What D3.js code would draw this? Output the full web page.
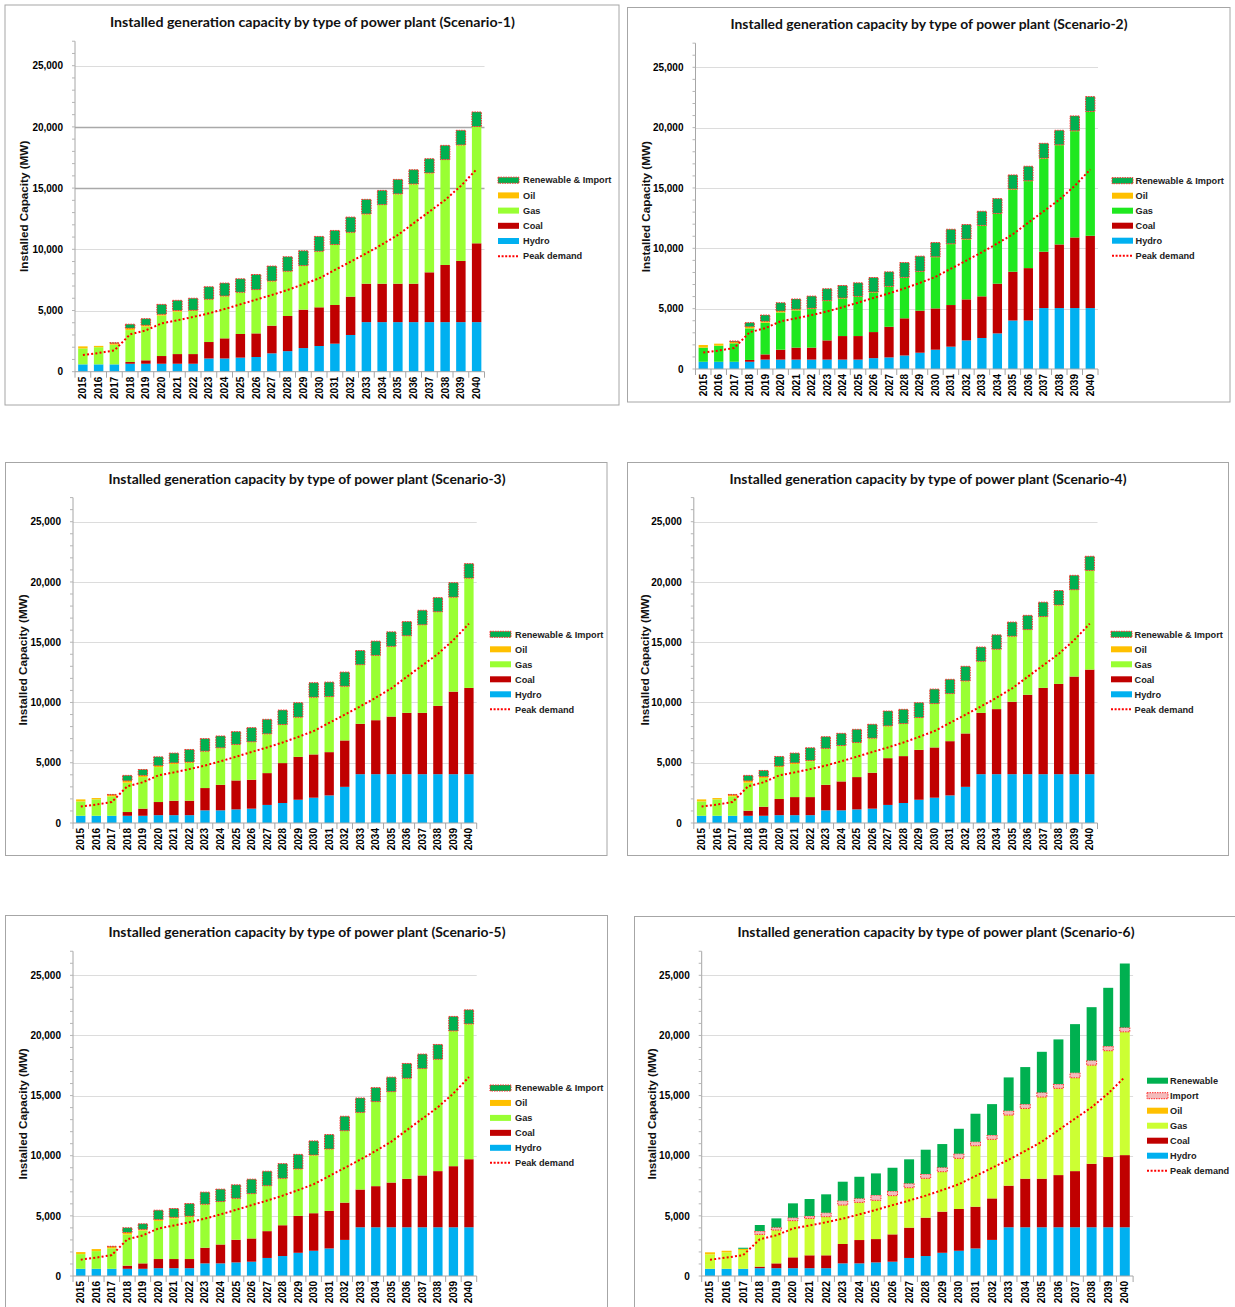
<!DOCTYPE html>
<html><head><meta charset="utf-8">
<script src="https://cdn.jsdelivr.net/npm/d3@7"></script>
<style>
html,body{margin:0;padding:0;background:#fff;}
svg{display:block;}
</style></head><body>
<svg id="chart" width="1235" height="1307"></svg>
<script>
// ---------------- DATA ----------------
const years = [2015,2016,2017,2018,2019,2020,2021,2022,2023,2024,2025,2026,2027,2028,2029,2030,2031,2032,2033,2034,2035,2036,2037,2038,2039,2040];
const peakDemand = [1360,1530,1740,3050,3380,3950,4200,4470,4770,5120,5500,5890,6270,6680,7140,7630,8310,8990,9670,10400,11170,12130,13080,14030,15180,16540];
const yTickValues = [0,5000,10000,15000,20000,25000];
const scenarioTitles = [
  "Installed generation capacity by type of power plant (Scenario-1)",
  "Installed generation capacity by type of power plant (Scenario-2)",
  "Installed generation capacity by type of power plant (Scenario-3)",
  "Installed generation capacity by type of power plant (Scenario-4)",
  "Installed generation capacity by type of power plant (Scenario-5)",
  "Installed generation capacity by type of power plant (Scenario-6)"
];

// Scenario 1
const hydro1 = [600,600,600,650,650,650,650,650,1080,1080,1150,1200,1500,1680,1930,2100,2290,3000,4050,4050,4050,4050,4050,4050,4050,4050];
const coal1  = [0,0,0,140,280,630,790,790,1345,1645,1930,1930,2260,2870,3140,3160,3160,3130,3140,3140,3140,3140,4070,4670,5000,6440];
const gas1   = [1300,1400,1600,2610,2750,3300,3460,3520,3465,3435,3380,3550,3620,3630,3570,4550,4910,5230,5670,6430,7310,8120,8090,8580,9450,9510];
const oil1   = [170,110,120,160,120,110,100,60,30,30,30,30,30,30,30,30,30,30,30,30,30,30,30,30,30,30];
const renewImport1 = [0,0,50,320,530,810,830,980,1020,1050,1100,1230,1220,1180,1210,1210,1150,1240,1190,1160,1180,1160,1160,1160,1190,1190];

// Scenario 2
const hydro2 = [600,600,600,600,780,780,780,780,780,780,780,900,960,1120,1350,1600,1850,2370,2570,2950,4020,4020,5050,5050,5050,5050];
const coal2  = [0,0,0,150,430,820,990,990,1590,1950,1950,2160,2540,3080,3480,3420,3450,3400,3450,4120,4040,4340,4670,5270,5850,5990];
const gas2   = [1170,1330,1530,2620,2630,3090,3090,3200,3260,3120,3260,3290,3320,3360,3230,4250,5050,4970,5850,5790,6820,7210,7720,8230,8810,10270];
const oil2   = [220,170,120,130,110,110,90,60,40,30,30,30,30,30,30,30,30,30,30,30,30,30,30,30,30,30];
const renewImport2 = [0,0,70,340,520,690,850,1010,980,1040,1120,1200,1200,1230,1260,1180,1200,1200,1170,1230,1170,1200,1230,1200,1230,1230];

// Scenario 3
const hydro3 = [600,600,600,600,600,650,650,650,1050,1050,1130,1190,1500,1660,1930,2100,2290,3000,4050,4050,4050,4050,4050,4050,4050,4050];
const coal3  = [0,0,0,310,590,1090,1200,1200,1850,2120,2400,2400,2640,3310,3560,3590,3590,3850,4180,4480,4780,5090,5090,5670,6850,7160];
const gas3   = [1190,1360,1610,2430,2620,2900,3040,3150,3030,3040,2960,3120,3230,3170,3260,4720,4580,4470,4880,5350,5800,6370,7280,7780,7810,9080];
const oil3   = [170,110,120,160,140,110,100,60,30,30,30,30,30,30,30,30,30,30,30,30,30,30,30,30,30,30];
const renewImport3 = [0,0,40,450,490,740,810,1040,1040,980,1060,1170,1200,1200,1200,1200,1200,1170,1170,1180,1200,1170,1200,1170,1200,1200];

// Scenario 4
const hydro4 = [600,600,600,600,600,650,650,650,1050,1050,1130,1190,1500,1660,1930,2100,2290,3000,4050,4050,4050,4050,4050,4050,4050,4050];
const coal4  = [0,0,0,420,750,1340,1500,1500,2120,2400,2680,2980,3880,3890,4140,4170,4500,4430,5090,5400,6010,6590,7160,7490,8100,8680];
const gas4   = [1190,1360,1610,2320,2380,2650,2740,2980,2990,2950,2840,2840,2650,2670,2650,3610,3920,4330,4250,4940,5410,5380,5890,6520,7180,8200];
const oil4   = [170,110,120,160,120,80,100,60,30,30,30,30,30,30,30,30,30,30,30,30,30,30,30,30,30,30];
const renewImport4 = [0,0,40,450,510,800,810,1050,970,1010,1090,1150,1230,1180,1230,1200,1180,1210,1180,1190,1170,1180,1190,1200,1190,1170];

// Scenario 5
const hydro5 = [600,600,600,600,600,650,650,650,1050,1050,1130,1190,1500,1660,1930,2100,2290,3000,4050,4050,4050,4050,4050,4050,4050,4050];
const coal5  = [0,0,0,260,450,760,760,760,1300,1570,1880,1930,2230,2560,3070,3120,3120,3100,3140,3420,3720,4030,4310,4670,5080,5660];
const gas5   = [1220,1470,1700,2590,2730,3170,3370,3510,3590,3540,3420,3700,3750,3870,3870,4810,5120,5950,6380,7000,7530,8330,8860,9270,11220,11220];
const oil5   = [170,170,130,170,100,120,100,60,30,30,30,30,30,30,30,30,30,30,30,30,30,30,30,30,30,30];
const renewImport5 = [0,0,40,390,460,770,730,1040,1000,1030,1120,1200,1200,1220,1210,1170,1200,1200,1200,1160,1200,1230,1200,1230,1200,1170];

// Scenario 6
const hydro6 = [600,600,600,650,650,650,650,650,1050,1050,1130,1190,1500,1660,1930,2100,2290,3000,4050,4050,4050,4050,4050,4050,4050,4050];
const coal6  = [0,0,0,130,400,900,1070,1070,1610,1940,1940,2270,2520,3190,3420,3470,3470,3450,3460,4040,4040,4340,4670,5280,5840,6000];
const gas6   = [1200,1370,1560,2650,2750,3030,3050,3190,3220,3110,3200,3200,3300,3250,3300,4190,5050,4890,5850,5820,6770,7190,7740,8180,8820,10230];
const oil6   = [170,130,100,30,20,20,20,20,20,20,20,20,20,20,20,20,20,20,20,20,20,20,20,20,20,20];
const import6 = [0,0,0,280,220,250,200,330,360,330,440,380,360,360,360,390,330,360,360,360,380,360,420,390,380,360];
const renew6 = [0,0,90,500,750,1190,1410,1530,1580,1800,1800,1940,2000,2020,1940,2070,2330,2570,2770,3080,3380,3710,4040,4430,4850,5320];

// ---------------- STYLE / LAYOUT ----------------
const COL = {hydro:"#00b0f0", coal:"#c00000", gasLime:"#99ff33", gasGreen:"#1fe81f", gasYellow:"#ccff33",
             oil:"#ffc000", renew:"#00b050", import:"#f3bcbc", peak:"#ff0000"};

function seriesStd(h,c,g,o,r,gasColor){
  return [
    {key:"Hydro", values:h, fill:gasColor?COL.hydro:COL.hydro},
    {key:"Coal", values:c, fill:COL.coal},
    {key:"Gas", values:g, fill:gasColor},
    {key:"Oil", values:o, fill:COL.oil},
    {key:"Renewable & Import", values:r, fill:COL.renew, dotted:true}
  ];
}

const panels = [
  {box:[5,5,614,400], xr:[75,484.5], y0:371.7, y25:65.7, title:[312.5,21.7], titleW:405, yt:[23.7,206.3],
   leg:{sx:498, tx:523, y:180.2, dy:15.2}, darkGrid:[15000,20000],
   series: seriesStd(hydro1,coal1,gas1,oil1,renewImport1,COL.gasLime)},
  {box:[627.5,7.5,602.5,394.5], xr:[695.5,1098], y0:369, y25:67.3, title:[929,24.3], titleW:397, yt:[645.4,206.7],
   leg:{sx:1112, tx:1135.5, y:180.7, dy:15}, darkGrid:[],
   series: seriesStd(hydro2,coal2,gas2,oil2,renewImport2,COL.gasGreen)},
  {box:[5.5,462.5,601.5,393], xr:[73,476.7], y0:823, y25:521.7, title:[307,478.7], titleW:397, yt:[23.3,660],
   leg:{sx:490, tx:515, y:634.3, dy:15}, darkGrid:[],
   series: seriesStd(hydro3,coal3,gas3,oil3,renewImport3,COL.gasLime)},
  {box:[627.5,462.5,601,393], xr:[693.8,1097.5], y0:823, y25:521.7, title:[928,478.7], titleW:397, yt:[644.4,660],
   leg:{sx:1111, tx:1134.5, y:634.3, dy:15}, darkGrid:[],
   series: seriesStd(hydro4,coal4,gas4,oil4,renewImport4,COL.gasLime)},
  {box:[5.5,915.5,602,420], xr:[73,476.7], y0:1276, y25:975.3, title:[307,931.7], titleW:397, yt:[23.3,1114],
   leg:{sx:490, tx:515, y:1088, dy:14.95}, darkGrid:[],
   series: seriesStd(hydro5,coal5,gas5,oil5,renewImport5,COL.gasLime)},
  {box:[634.5,916.5,640,420], xr:[701.7,1133.1], y0:1276, y25:975.3, title:[936,931.7], titleW:397, yt:[652,1114],
   leg:{sx:1147, tx:1170, y:1080.7, dy:15}, darkGrid:[],
   series: [
     {key:"Hydro", values:hydro6, fill:COL.hydro},
     {key:"Coal", values:coal6, fill:COL.coal},
     {key:"Gas", values:gas6, fill:COL.gasYellow},
     {key:"Oil", values:oil6, fill:COL.oil},
     {key:"Import", values:import6, fill:COL.import, dotted:true},
     {key:"Renewable", values:renew6, fill:COL.renew}
   ]}
];

const FONT = "'Liberation Sans', Arial, sans-serif";
const svg = d3.select("#chart");

panels.forEach((p, pi) => {
  const g = svg.append("g");
  // border
  g.append("rect").attr("x",p.box[0]).attr("y",p.box[1]).attr("width",p.box[2]).attr("height",p.box[3])
    .attr("fill","#fff").attr("stroke","#a6a6a6").attr("stroke-width",1);

  const x = d3.scaleBand().domain(years).range(p.xr).paddingInner(0.4).paddingOuter(0.2);
  const y = d3.scaleLinear().domain([0,25000]).range([p.y0,p.y25]);
  const bw = x.bandwidth();

  // gridlines
  g.append("g").selectAll("line").data(yTickValues.filter(v=>v>0)).join("line")
    .attr("x1",p.xr[0]).attr("x2",p.xr[1]).attr("y1",d=>Math.round(y(d))+0.5).attr("y2",d=>Math.round(y(d))+0.5)
    .attr("stroke",d=>p.darkGrid.includes(d)?"#a9a9a9":"#dcdcdc").attr("stroke-width",d=>p.darkGrid.includes(d)?1.4:1.2);

  // y axis line & minor ticks
  const yTop = y(27000);
  g.append("line").attr("x1",p.xr[0]).attr("x2",p.xr[0]).attr("y1",yTop).attr("y2",p.y0).attr("stroke","#a6a6a6");
  g.append("g").selectAll("line").data(d3.range(0,27001,1000)).join("line")
    .attr("x1",p.xr[0]-3).attr("x2",p.xr[0]).attr("y1",d=>y(d)).attr("y2",d=>y(d)).attr("stroke","#b5b5b5");

  // y labels
  const yAx = d3.axisLeft(y).tickValues(yTickValues).tickFormat(d3.format(",")).tickSize(0).tickPadding(12);
  const yg = g.append("g").attr("transform",`translate(${p.xr[0]},0)`).call(yAx);
  yg.select(".domain").remove();
  yg.selectAll("text").attr("font-family",FONT).attr("font-weight","bold").attr("font-size","10px").attr("fill","#000");

  // stacked bars
  const keys = p.series.map(s=>s.key);
  const rows = years.map((yr,i)=>{ const r={year:yr}; p.series.forEach(s=>r[s.key]=s.values[i]); return r; });
  const stacked = d3.stack().keys(keys)(rows);
  stacked.forEach((layer, li) => {
    const s = p.series[li];
    const sel = g.append("g").selectAll("rect").data(layer.filter(d=>d[1]-d[0]>0)).join("rect")
      .attr("x",d=>x(d.data.year)).attr("width",bw)
      .attr("y",d=>y(d[1])).attr("height",d=>y(d[0])-y(d[1]))
      .attr("fill",s.fill);
    if (s.dotted) {
      sel.attr("stroke","#ff2a2a").attr("stroke-width",1).attr("stroke-dasharray","1.5,1");
    }
  });

  // x axis line
  g.append("line").attr("x1",p.xr[0]).attr("x2",p.xr[1]).attr("y1",p.y0).attr("y2",p.y0).attr("stroke","#a6a6a6");
  // separators
  const step = x.step();
  g.append("g").selectAll("line").data(d3.range(0,years.length+1)).join("line")
    .attr("x1",d=>p.xr[0]+d*step).attr("x2",d=>p.xr[0]+d*step).attr("y1",p.y0).attr("y2",p.y0+6).attr("stroke","#a6a6a6");
  // x labels
  g.append("g").selectAll("text").data(years).join("text")
    .attr("transform",d=>`translate(${x(d)+bw/2},${p.y0+5}) rotate(-90)`)
    .attr("text-anchor","end").attr("dy","0.35em")
    .attr("font-family",FONT).attr("font-weight","bold").attr("font-size","10px").attr("fill","#000")
    .text(d=>d);

  // peak demand line
  const line = d3.line().x((d,i)=>x(years[i])+bw/2).y(d=>y(d));
  g.append("path").datum(peakDemand).attr("d",line).attr("fill","none")
    .attr("stroke",COL.peak).attr("stroke-width",2).attr("stroke-dasharray","2,2.2");

  // title
  g.append("text").attr("x",p.title[0]).attr("y",p.title[1]).attr("dy","0.35em").attr("text-anchor","middle")
    .attr("font-family","Lato, 'Open Sans', sans-serif").attr("font-weight","bold").attr("font-size","14px").attr("fill","#111")
    .attr("textLength",p.titleW).attr("lengthAdjust","spacingAndGlyphs")
    .text(scenarioTitles[pi]);

  // y title
  g.append("text").attr("transform",`translate(${p.yt[0]},${p.yt[1]}) rotate(-90)`).attr("dy","0.35em")
    .attr("text-anchor","middle").attr("font-family",FONT).attr("font-weight","bold").attr("font-size","11.7px").attr("fill","#111")
    .text("Installed Capacity (MW)");

  // legend
  const legItems = p.series.slice().reverse().map(s=>({label:s.key, fill:s.fill, dotted:s.dotted, type:"rect"}));
  legItems.push({label:"Peak demand", type:"line"});
  const lg = g.append("g");
  legItems.forEach((it, k) => {
    const cy = p.leg.y + k*p.leg.dy;
    if (it.type==="rect") {
      const r = lg.append("rect").attr("x",p.leg.sx).attr("y",cy-3).attr("width",21).attr("height",6).attr("fill",it.fill);
      if (it.dotted) r.attr("stroke","#ff2a2a").attr("stroke-width",1).attr("stroke-dasharray","1.5,1");
    } else {
      lg.append("line").attr("x1",p.leg.sx).attr("x2",p.leg.sx+21).attr("y1",cy).attr("y2",cy)
        .attr("stroke",COL.peak).attr("stroke-width",2).attr("stroke-dasharray","2,1.6");
    }
    lg.append("text").attr("x",p.leg.tx).attr("y",cy).attr("dy","0.35em")
      .attr("font-family",FONT).attr("font-weight","bold").attr("font-size","9.2px").attr("fill","#222")
      .text(it.label);
  });
});
</script>
</body></html>
